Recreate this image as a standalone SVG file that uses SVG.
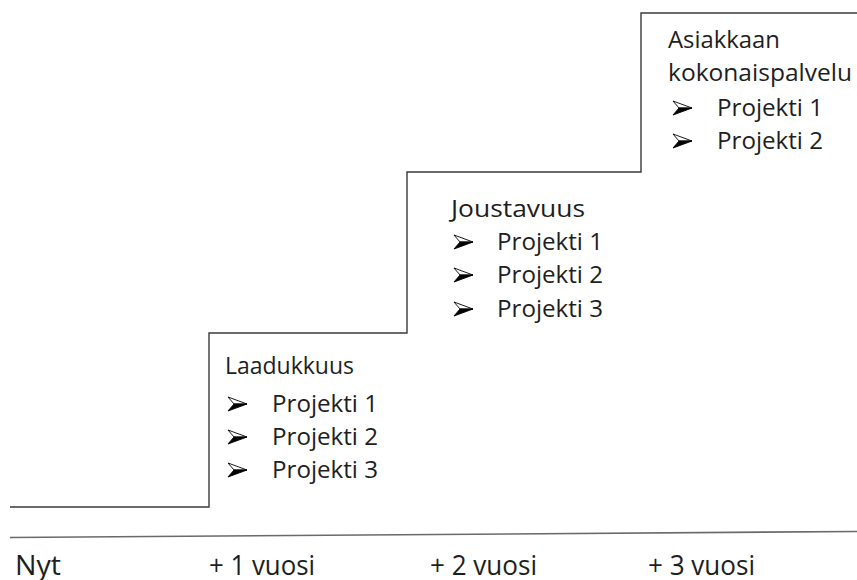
<svg xmlns="http://www.w3.org/2000/svg" width="857" height="580" viewBox="0 0 857 580">
<style>
.t{font-family:"Open Sans","Noto Sans","Liberation Sans",sans-serif;font-size:24px;fill:#1e1e1e}
.b{font-family:"Open Sans","Noto Sans","Liberation Sans",sans-serif;font-size:27px;fill:#1e1e1e}
.ln{fill:none;stroke:#3a3a3a;stroke-width:1.4}
</style>
<defs>
<g id="arr">
<polygon points="0,-7 19,0 6,0" fill="#ffffff" stroke="#000" stroke-width="0.9" stroke-linejoin="miter"/>
<polygon points="6,0 19,0 0,7" fill="#000" stroke="#000" stroke-width="0.9"/>
</g>
</defs>
<rect width="857" height="580" fill="#fff"/>
<g id="connectors">
<polyline class="ln" points="10,507 209,507 209,333 407,333 407,172 641,172 641,13 857,13"/>
<line x1="10" y1="537.5" x2="857" y2="531.5" stroke="#6a6a6a" stroke-width="1.6"/>
</g>
<g id="step1">
<text class="t" x="225" y="374" textLength="129" lengthAdjust="spacingAndGlyphs">Laadukkuus</text>
<use href="#arr" x="228" y="404"/>
<text class="t" x="272" y="412" textLength="106" lengthAdjust="spacingAndGlyphs">Projekti 1</text>
<use href="#arr" x="228" y="437"/>
<text class="t" x="272" y="445" textLength="106" lengthAdjust="spacingAndGlyphs">Projekti 2</text>
<use href="#arr" x="228" y="470"/>
<text class="t" x="272" y="478" textLength="106" lengthAdjust="spacingAndGlyphs">Projekti 3</text>
</g>
<g id="step2">
<text class="t" x="451" y="217" textLength="134" lengthAdjust="spacingAndGlyphs">Joustavuus</text>
<use href="#arr" x="454" y="242"/>
<text class="t" x="497" y="250" textLength="106" lengthAdjust="spacingAndGlyphs">Projekti 1</text>
<use href="#arr" x="454" y="275"/>
<text class="t" x="497" y="283" textLength="106" lengthAdjust="spacingAndGlyphs">Projekti 2</text>
<use href="#arr" x="454" y="309"/>
<text class="t" x="497" y="317" textLength="106" lengthAdjust="spacingAndGlyphs">Projekti 3</text>
</g>
<g id="step3">
<text class="t" x="668" y="48" textLength="112" lengthAdjust="spacingAndGlyphs">Asiakkaan</text>
<text class="t" x="668" y="81" textLength="184" lengthAdjust="spacingAndGlyphs">kokonaispalvelu</text>
<use href="#arr" x="673" y="108"/>
<text class="t" x="717" y="116" textLength="106" lengthAdjust="spacingAndGlyphs">Projekti 1</text>
<use href="#arr" x="673" y="141"/>
<text class="t" x="717" y="149" textLength="106" lengthAdjust="spacingAndGlyphs">Projekti 2</text>
</g>
<g id="axis">
<text class="b" x="15" y="575" textLength="46" lengthAdjust="spacingAndGlyphs">Nyt</text>
<text class="b" x="209" y="575" textLength="106" lengthAdjust="spacingAndGlyphs">+ 1 vuosi</text>
<text class="b" x="430" y="575" textLength="107" lengthAdjust="spacingAndGlyphs">+ 2 vuosi</text>
<text class="b" x="648" y="575" textLength="107" lengthAdjust="spacingAndGlyphs">+ 3 vuosi</text>
</g>
</svg>
